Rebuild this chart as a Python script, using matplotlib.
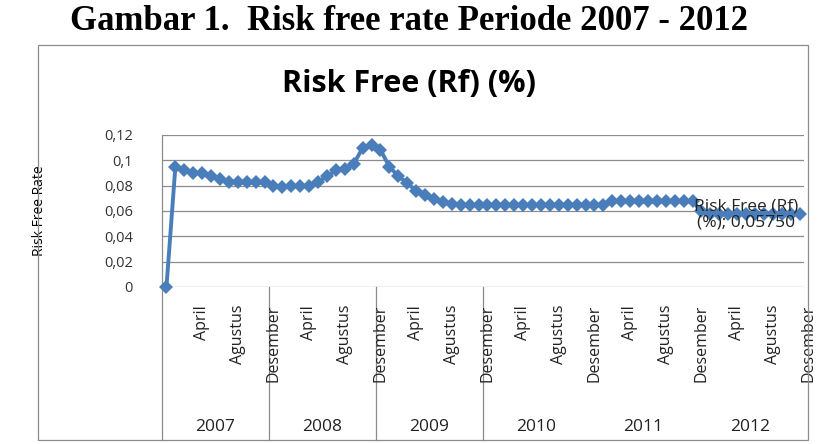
import numpy as np
import matplotlib.pyplot as plt
from matplotlib.patches import Rectangle
import matplotlib.transforms as mtransforms

# monthly risk free rate, Jan 2007 - Dec 2012
years = ['2007', '2008', '2009', '2010', '2011', '2012']
months = ['Januari', 'Februari', 'Maret', 'April', 'Mei', 'Juni', 'Juli',
          'Agustus', 'September', 'Oktober', 'November', 'Desember']
shown_months = ['April', 'Agustus', 'Desember']

rf_2007 = [0.0, 0.095, 0.0925, 0.09, 0.09, 0.0875, 0.085, 0.0825, 0.0825, 0.0825, 0.0825, 0.0825]
rf_2008 = [0.08, 0.0793, 0.0796, 0.0799, 0.08, 0.0831, 0.0873, 0.0923, 0.0928, 0.0971, 0.1098, 0.1124]
rf_2009 = [0.1083, 0.095, 0.0874, 0.0821, 0.0759, 0.0725, 0.0695, 0.0671, 0.0658, 0.0648, 0.0649, 0.0647]
rf_2010 = [0.0646, 0.065, 0.065, 0.065, 0.065, 0.065, 0.065, 0.065, 0.065, 0.065, 0.065, 0.065]
rf_2011 = [0.065, 0.065, 0.0675, 0.0675, 0.0675, 0.0675, 0.0675, 0.0675, 0.0675, 0.0675, 0.0675, 0.0675]
rf_2012 = [0.06, 0.0575, 0.0575, 0.0575, 0.0575, 0.0575, 0.0575, 0.0575, 0.0575, 0.0575, 0.0575, 0.0575]

yticks = [0, 0.02, 0.04, 0.06, 0.08, 0.1, 0.12]
label_idx = 65  # point carrying the data label

rf = np.array(rf_2007 + rf_2008 + rf_2009 + rf_2010 + rf_2011 + rf_2012)
x = np.arange(len(rf))

plt.rcParams['font.family'] = ['Open Sans', 'DejaVu Sans']

W, H = 818, 444
fig = plt.figure(figsize=(W / 100, H / 100), dpi=100)

def px(x0, y0, w, h):
    return [x0 / W, 1 - (y0 + h) / H, w / W, h / H]

# outer chart frame
fig.patches.append(Rectangle((38 / W, 1 - 440 / H), (808 - 38) / W, (440 - 45) / H,
                             transform=fig.transFigure, fill=False,
                             edgecolor='#8c8c8c', lw=0.9))

fig.text(0.5, 1 - 22 / H, 'Gambar 1.  Risk free rate Periode 2007 - 2012',
         ha='center', va='center', family='Liberation Serif',
         fontweight='bold', fontsize=25)

ax = fig.add_axes(px(162, 135, 642, 152))

ax.plot(x, rf, color='#4a7ebb', lw=2.8, marker='D', markersize=7.5,
        markeredgewidth=0, zorder=3, clip_on=False)

ax.set_xlim(-0.5, len(rf) - 0.5)
ax.set_ylim(0, 0.12)
ax.set_yticks(yticks)
ax.set_yticklabels([('%g' % v).replace('.', ',') for v in yticks])
ax.tick_params(axis='y', length=0, pad=21, labelsize=10.5, colors='#333333')
ax.set_xticks([])
ax.yaxis.grid(True, color='#8c8c8c', lw=0.9)
ax.set_axisbelow(True)
for s in ['top', 'right', 'bottom']:
    ax.spines[s].set_visible(False)
ax.spines['left'].set_color('#8c8c8c')
ax.spines['left'].set_linewidth(0.9)

ax.set_ylabel('Risk Free Rate', fontsize=10)
ax.yaxis.set_label_coords(-115 / 642, 0.5)

fig.text(0.5, 1 - 84 / H, 'Risk Free (Rf) (%)', ha='center', va='center',
         fontsize=22, fontweight='bold')

# category axis: months, years, separators
trans = mtransforms.blended_transform_factory(ax.transData, ax.transAxes)
ax_h = 152.0
for yi, yr in enumerate(years):
    for m in shown_months:
        i = yi * 12 + months.index(m)
        ax.text(i + 1.0, -18 / ax_h, m, transform=trans, rotation=90,
                ha='center', va='top', fontsize=11.5, color='#222222')
    ax.text(yi * 12 + 5.5, -140 / ax_h, yr, transform=trans,
            ha='center', va='center', fontsize=12.5, color='#222222')

for b in range(4):
    xb = b * 12 - 0.5
    ax.plot([xb, xb], [0, -153 / ax_h], transform=trans, color='#8c8c8c',
            lw=0.9, clip_on=False)

ax.text(label_idx, rf[label_idx],
        'Risk Free (Rf)\n(%%); %s' % ('%.5f' % rf[label_idx]).replace('.', ','),
        ha='center', va='center', fontsize=12.5, color='#222222',
        linespacing=1.0, zorder=4)

fig.savefig('out.png', dpi=100)
